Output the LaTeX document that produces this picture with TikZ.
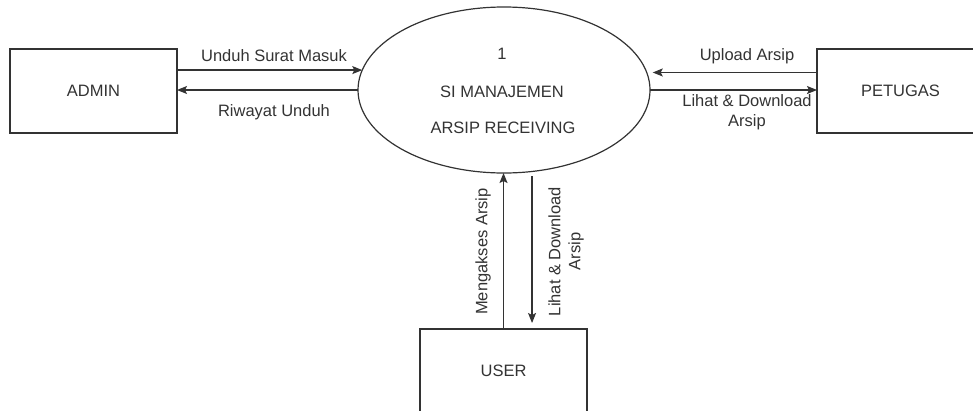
\documentclass[tikz,border=0pt]{standalone}
\usepackage{fontspec}
\setmainfont{Liberation Sans}
\usetikzlibrary{arrows.meta,shapes.geometric}
\definecolor{ink}{HTML}{333333}
\begin{document}
\begin{tikzpicture}[x=1pt,y=-1pt,
  every node/.style={font=\fontsize{16.5}{20}\selectfont, text=ink},
  entity/.style={draw=ink, line width=1.2pt, minimum width=167pt, minimum height=84pt, inner sep=0pt, outer sep=0pt},
  process/.style={draw=ink, line width=1.2pt, ellipse, minimum width=292pt, minimum height=166pt, inner sep=0pt, outer sep=0pt},
  flow/.style={draw=ink, line width=1.2pt, -{Stealth[length=10pt,width=8pt,inset=2pt]}},
  lbl/.style={inner sep=0pt, align=center}]
\useasboundingbox (0,0) rectangle (973,410);
\clip (0,0) rectangle (973,410);

% external entities and the process
\node[entity] (admin) at (93.5,91) {ADMIN};
\node[entity] (petugas) at (900.5,91) {PETUGAS};
\node[entity] (user) at (503.5,371) {USER};
\node[process] (proc) at (504,90) {};
\node[lbl] (num) at (502,54) {1};
\node[lbl] (t1) at (502,92) {SI MANAJEMEN};
\node[lbl] (t2) at (503,128) {ARSIP RECEIVING};

% attachment points on the process border
\coordinate (pl) at (proc.172.4);
\coordinate (pr) at (proc.7.6);
\coordinate (pd) at (proc.-71);

% ADMIN flows
\draw[flow] (admin.east |- pl) -- (pl);
\draw[flow] (proc.west) -- (admin.east |- proc.west);
\node[lbl] (l1) at (274,56) {Unduh Surat Masuk};
\node[lbl] (l2) at (274,112) {Riwayat Unduh};

% PETUGAS flows
\draw[flow, shorten >=6pt] (petugas.west |- pr) -- (pr);
\draw[flow] (proc.east) -- (petugas.west |- proc.east);
\node[lbl] (l3) at (747,56) {Upload Arsip};
\node[lbl] (l4) at (747,112) {Lihat \& Download\\Arsip};

% USER flows
\draw[flow] (user.north) -- (user.north |- proc.south);
\draw[flow, shorten <=5pt, shorten >=6pt] (pd) -- (pd |- user.north);
\node[lbl, rotate=90] (l5) at (483,251.5) {Mengakses Arsip};
\node[lbl, rotate=90] (l6) at (566,251.5) {Lihat \& Download\\Arsip};
\end{tikzpicture}
\end{document}
